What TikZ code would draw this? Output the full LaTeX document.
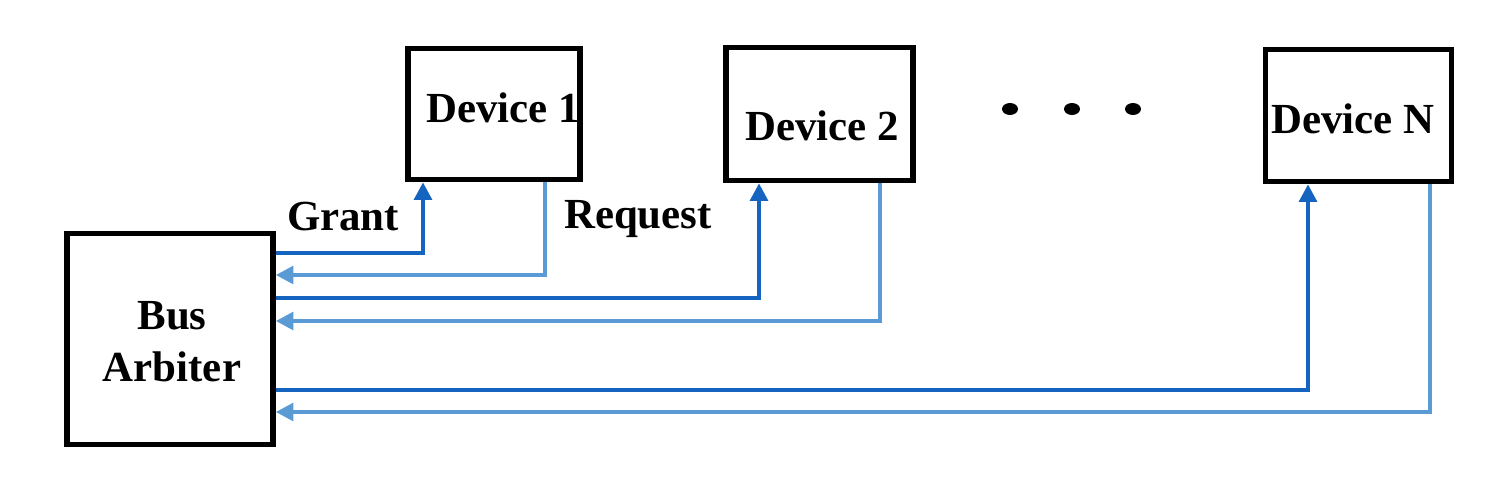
\documentclass[tikz,border=0pt]{standalone}
\usepackage{fontspec}
\setmainfont{Liberation Serif}
\usetikzlibrary{arrows.meta}

\definecolor{grantblue}{HTML}{1565C0}
\definecolor{reqblue}{HTML}{5B9BD5}

\tikzset{
	box/.style={draw, line width=1.6pt, inner sep=0pt},
	lbl/.style={font=\fontsize{12.2}{14.8}\selectfont\bfseries, inner sep=0pt},
	grant/.style={grantblue, line width=1.15pt, -{Triangle[length=5pt,width=5pt]}},
	req/.style={reqblue, line width=1.15pt, -{Triangle[length=5pt,width=5pt]}}
}

\begin{document}
\begin{tikzpicture} %bus arbiter
			\useasboundingbox (0,0) rectangle (15.06,-4.76);

			\node[box, minimum width=2.06cm, minimum height=2.11cm] (arb) at (1.70,-3.39) {};
			\node[box, minimum width=1.72cm, minimum height=1.31cm] (dev1) at (4.94,-1.14) {};
			\node[box, minimum width=1.87cm, minimum height=1.33cm] (dev2) at (8.195,-1.14) {};
			\node[box, minimum width=1.86cm, minimum height=1.32cm] (devn) at (13.585,-1.155) {};

			\node[lbl, align=center] (arbtxt) at (1.72,-3.42) {Bus\\Arbiter};
			\node[lbl] (dev1txt) at (5.03,-1.08) {Device 1};
			\node[lbl] (dev2txt) at (8.22,-1.26) {Device 2};
			\node[lbl] (devntxt) at (13.53,-1.19) {Device N};

			\fill (10.10,-1.09) ellipse (0.08 and 0.06);
			\fill (10.72,-1.09) ellipse (0.08 and 0.06);
			\fill (11.33,-1.09) ellipse (0.08 and 0.06);

			\coordinate (g1) at (4.23,-2.53);
			\coordinate (r1) at (5.45,-2.75);
			\coordinate (g2) at (7.59,-2.98);
			\coordinate (r2) at (8.80,-3.21);
			\coordinate (gn) at (13.08,-3.90);
			\coordinate (rn) at (14.30,-4.12);

			\draw[grant] (arb.east |- g1) -| (dev1.south -| g1) node [pos=.5,above=0.2cm,xshift=-0.8cm,text=black,lbl] (granttxt) {Grant};
			\draw[req] (dev1.south -| r1) |- (arb.east |- r1);
			\draw[grant] (arb.east |- g2) -| (dev2.south -| g2);
			\draw[req] (dev2.south -| r2) |- (arb.east |- r2);
			\draw[grant] (arb.east |- gn) -| (devn.south -| gn);
			\draw[req] (devn.south -| rn) |- (arb.east |- rn);

			\node[lbl] (reqtxt) at (6.38,-2.19) {Request};
		\end{tikzpicture}
\end{document}
